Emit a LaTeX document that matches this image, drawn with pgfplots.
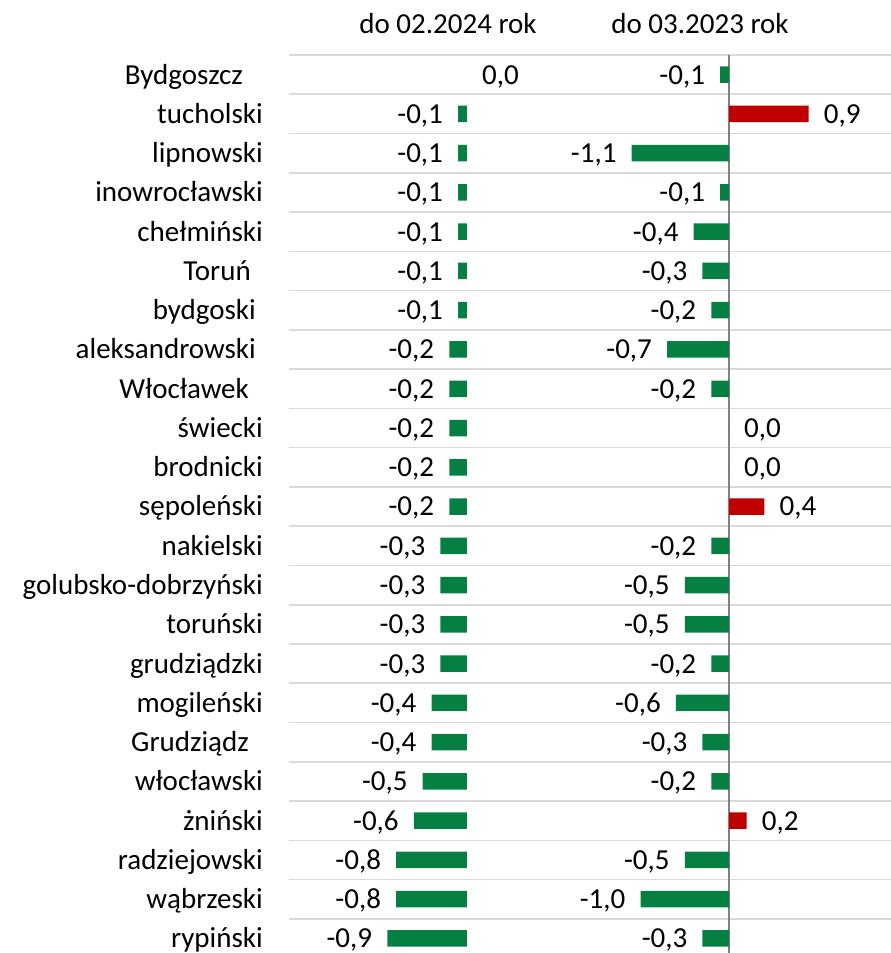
\documentclass[border=0pt]{standalone}
\usepackage{pgfplots}
\pgfplotsset{compat=1.18}
\usepackage{fontspec}
\setmainfont{Carlito}
\definecolor{bargreen}{RGB}{5,128,66}
\definecolor{barred}{RGB}{192,0,0}
\definecolor{gridgray}{RGB}{217,217,217}
\definecolor{axisgray}{RGB}{128,128,128}
\begin{document}
\fontsize{29}{35}\selectfont
\begin{tikzpicture}
\path[use as bounding box] (0,0) rectangle (891pt,953pt);
\pgfplotsset{
 common/.style={
  at={(289pt,0pt)}, anchor=south west,
  width=602pt, height=898pt, scale only axis,
  y dir=reverse, ymin=-0.5, ymax=22.37,
  axis line style={draw=none},
  xtick=\empty,
  clip=false,
  xbar, bar width=16.5pt, bar shift=0pt,
  point meta=x,
  nodes near coords,
  nodes near coords align={horizontal},
  every node near coord/.append style={font=\fontsize{29}{35}\selectfont, text height=18.8pt, text depth=0pt, inner xsep=15pt, text=black},
  /pgf/number format/fixed,
  /pgf/number format/fixed zerofill,
  /pgf/number format/precision=1,
  /pgf/number format/use comma,
  /pgf/number format/assume math mode=true,
 }
}
\begin{axis}[common, xmin=-2.011, xmax=4.791,
 ytick={0,...,22},
 yticklabels={{Bydgoszcz\kern20pt}, tucholski, lipnowski, inowrocławski, chełmiński, {Toruń\kern12pt}, {bydgoski\kern7pt}, {aleksandrowski\kern7pt}, {Włocławek\kern14pt}, świecki, brodnicki, sępoleński, nakielski, golubsko-dobrzyński, toruński, grudziądzki, mogileński, {Grudziądz\kern14pt}, włocławski, żniński, radziejowski, wąbrzeski, rypiński},
 yticklabel style={anchor=east, inner sep=0pt, text height=18.8pt, text depth=0pt, xshift=-26pt, font=\fontsize{29}{35}\selectfont},
 major tick length=0pt, minor tick length=0pt,
 minor ytick={-0.5,0.5,...,21.5}, yminorgrids, minor grid style={gridgray, line width=1.6pt},
]
\addplot[fill=none, draw=none, bar shift=0pt] coordinates {(0.0,0)};
\addplot[fill=bargreen, draw=none, bar shift=0pt] coordinates {
 (-0.1,1) (-0.1,2) (-0.1,3) (-0.1,4) (-0.1,5) (-0.1,6) (-0.2,7) (-0.2,8) (-0.2,9) (-0.2,10) (-0.2,11)
 (-0.3,12) (-0.3,13) (-0.3,14) (-0.3,15) (-0.4,16) (-0.4,17) (-0.5,18) (-0.6,19) (-0.8,20) (-0.8,21) (-0.9,22)};
\end{axis}
\begin{axis}[common, xmin=-4.972, xmax=1.830, ytick=\empty,
 extra x ticks={0}, extra x tick labels={}, extra x tick style={grid=major, major grid style={axisgray, line width=1.5pt}},
 major tick length=0pt]
\addplot[fill=bargreen, draw=none, bar shift=0pt] coordinates {
 (-0.1,0) (-1.1,2) (-0.1,3) (-0.4,4) (-0.3,5) (-0.2,6) (-0.7,7) (-0.2,8) (0.0,9) (0.0,10)
 (-0.2,12) (-0.5,13) (-0.5,14) (-0.2,15) (-0.6,16) (-0.3,17) (-0.2,18) (-0.5,20) (-1.0,21) (-0.3,22)};
\addplot[fill=barred, draw=none, bar shift=0pt] coordinates {
 (0.9,1) (0.4,11) (0.2,19)};
\end{axis}
\node[anchor=base] at (448pt, 919pt) {do 02.2024 rok};
\node[anchor=base] at (700pt, 919pt) {do 03.2023 rok};
\end{tikzpicture}
\end{document}
